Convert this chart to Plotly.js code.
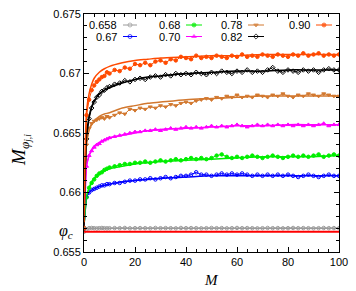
<!DOCTYPE html>
<html><head><meta charset="utf-8">
<script src="https://cdn.plot.ly/plotly-3.0.1.min.js"></script>
<style>html,body{margin:0;padding:0;background:#fff}#c{width:356px;height:291px}</style>
</head><body><div id="c"></div>
<script>
const M = [0,1,2,3,4,5,6,7,8,9,10,12,14,16,18,20,22,24,26,28,30,32,34,36,38,40,42,44,46,48,50,52,54,56,58,60,62,64,66,68,70,72,74,76,78,80,82,84,86,88,90,92,94,96,98,100];
const Mfit = [0,1,2,3,4,6,8,10,15,20,25,30,40,50,60,70,80,90,100];
const phiC = 0.6567;

const d0658 = [0.6567,0.6569,0.6570,0.65702,0.6570,0.65698,0.6570,0.65702,0.6570,0.65699,0.6570,0.65701,0.6570,0.65702,0.65699,0.6570,0.65701,0.6570,0.65699,0.65702,0.6570,0.65701,0.6570,0.65699,0.65702,0.6570,0.65701,0.6570,0.65699,0.6570,0.65702,0.6570,0.65701,0.65699,0.6570,0.65702,0.6570,0.65701,0.6570,0.65699,0.6570,0.65702,0.6570,0.65701,0.65699,0.6570,0.65702,0.6570,0.65701,0.6570,0.65699,0.6570,0.65702,0.6570,0.65701,0.6570];
const d067 = [0.6570,0.6596,0.6600,0.6602,0.6603,0.6604,0.6605,0.6606,0.6606,0.6607,0.6607,0.6608,0.6608,0.6609,0.6610,0.6610,0.6611,0.6611,0.6612,0.6611,0.6612,0.6613,0.6612,0.6613,0.6614,0.6614,0.6615,0.6617,0.6615,0.6615,0.6614,0.6615,0.6616,0.6615,0.6616,0.6615,0.6616,0.6615,0.6614,0.6615,0.6614,0.6615,0.6614,0.6615,0.6614,0.6615,0.6614,0.6613,0.6614,0.6615,0.6614,0.6613,0.6614,0.6615,0.6614,0.6614];
const d068 = [0.6570,0.6596,0.6604,0.6608,0.6611,0.6614,0.6616,0.6617,0.6619,0.6620,0.6621,0.6622,0.6623,0.6624,0.6624,0.6625,0.6625,0.6626,0.6625,0.6626,0.6627,0.6626,0.6627,0.6628,0.6627,0.6628,0.6629,0.6628,0.6629,0.6628,0.6629,0.6631,0.6632,0.6630,0.6629,0.6630,0.6629,0.6630,0.6631,0.6630,0.6629,0.6630,0.6631,0.6630,0.6629,0.6630,0.6631,0.6630,0.6631,0.6630,0.6631,0.6632,0.6630,0.6631,0.6632,0.6631];
const d070 = [0.6570,0.6622,0.6631,0.6635,0.6638,0.6640,0.6641,0.6643,0.6644,0.6645,0.6646,0.6647,0.6648,0.6649,0.6650,0.6651,0.6651,0.6652,0.6652,0.6653,0.6652,0.6653,0.6654,0.6653,0.6654,0.6655,0.6654,0.6655,0.6654,0.6655,0.6656,0.6655,0.6656,0.6655,0.6656,0.6657,0.6656,0.6655,0.6656,0.6657,0.6656,0.6657,0.6656,0.6657,0.6656,0.6657,0.6656,0.6657,0.6656,0.6657,0.6656,0.6657,0.6658,0.6656,0.6657,0.6657];
const d078 = [0.6570,0.6640,0.6654,0.6658,0.6660,0.6661,0.6662,0.6663,0.6662,0.6664,0.6663,0.6665,0.6667,0.6666,0.6670,0.6669,0.6671,0.6670,0.6672,0.6671,0.6673,0.6672,0.6674,0.6673,0.6675,0.6676,0.6675,0.6677,0.6678,0.6679,0.6678,0.6680,0.6679,0.6681,0.6680,0.6682,0.6680,0.6681,0.6680,0.6682,0.6681,0.6680,0.6682,0.6681,0.6683,0.6681,0.6680,0.6682,0.6681,0.6683,0.6682,0.6681,0.6683,0.6682,0.6681,0.6681];
const d082 = [0.6570,0.6645,0.6662,0.6671,0.6676,0.6680,0.6682,0.6685,0.6686,0.6688,0.6689,0.6691,0.6692,0.6694,0.6693,0.6695,0.6696,0.6695,0.6697,0.6698,0.6697,0.6699,0.6698,0.6700,0.6699,0.6700,0.6699,0.6701,0.6700,0.6699,0.6701,0.6700,0.6702,0.6701,0.6700,0.6702,0.6701,0.6703,0.6701,0.6702,0.6701,0.6703,0.6705,0.6702,0.6701,0.6703,0.6702,0.6701,0.6703,0.6702,0.6703,0.6701,0.6703,0.6704,0.6703,0.6703];
const d090 = [0.6570,0.6665,0.6678,0.6686,0.6690,0.6693,0.6695,0.6697,0.6698,0.6701,0.6700,0.6703,0.6702,0.6705,0.6704,0.6708,0.6707,0.6709,0.6707,0.6710,0.6711,0.6709,0.6712,0.6711,0.6714,0.6713,0.6712,0.6715,0.6713,0.6714,0.6713,0.6715,0.6714,0.6713,0.6715,0.6714,0.6716,0.6714,0.6715,0.6714,0.6716,0.6715,0.6714,0.6716,0.6715,0.6714,0.6716,0.6715,0.6717,0.6715,0.6716,0.6717,0.6715,0.6716,0.6715,0.6716];

const f0658 = [0.6570,0.6570,0.6570,0.6570,0.6570,0.6570,0.6570,0.6570,0.6570,0.6570,0.6570,0.6570,0.6570,0.6570,0.6570,0.6570,0.6570,0.6570,0.6570];
const f067 = [0.6572,0.6596,0.6600,0.6602,0.6603,0.6605,0.6606,0.6607,0.6609,0.6610,0.6611,0.6612,0.6613,0.6614,0.6614,0.6614,0.6614,0.6614,0.6614];
const f068 = [0.6572,0.6597,0.6604,0.6609,0.6612,0.6616,0.6618,0.6620,0.6622,0.6624,0.6625,0.6626,0.6627,0.6628,0.6629,0.6630,0.6630,0.6630,0.6631];
const f070 = [0.6572,0.6623,0.6631,0.6636,0.6639,0.6642,0.6644,0.6646,0.6648,0.6650,0.6652,0.6653,0.6654,0.6655,0.6656,0.6656,0.6657,0.6657,0.6657];
const f078 = [0.6572,0.6642,0.6652,0.6657,0.6660,0.6664,0.6666,0.6667,0.6671,0.6673,0.6675,0.6676,0.6678,0.6679,0.6680,0.6681,0.6681,0.6681,0.6681];
const f082 = [0.6572,0.6648,0.6664,0.6672,0.6677,0.6683,0.6686,0.6688,0.6692,0.6695,0.6697,0.6698,0.6700,0.6701,0.6702,0.6702,0.6703,0.6703,0.6703];
const f090 = [0.6575,0.6668,0.6683,0.6691,0.6696,0.6701,0.6704,0.6706,0.6709,0.6711,0.6712,0.6713,0.6714,0.6715,0.6715,0.6716,0.6716,0.6716,0.6716];

const labels = ['0.658','0.67','0.68','0.70','0.78','0.82','0.90'];
const colors = ['#9a9a9a','#0000ff','#00ee00','#ff00ff','#d2782f','#000000','#ff4a00'];
const symbols = ['circle-open','circle-open','circle','triangle-up','triangle-down','diamond-open','circle'];
const dataSets = [d0658,d067,d068,d070,d078,d082,d090];
const fitSets = [f0658,f067,f068,f070,f078,f082,f090];

const yTicks = [0.655, phiC, 0.66, 0.665, 0.67, 0.675];
const yTickText = ['0.655', '', '0.66', '0.665', '0.67', '0.675'];

const traces = [];
dataSets.forEach((d,i)=>{
  traces.push({x:M, y:d, type:'scatter', mode:'lines+markers', showlegend:false,
    line:{color:colors[i], width:1}, marker:{color:colors[i], symbol:symbols[i], size:3.5, line:{color:colors[i], width:1}}});
});
fitSets.forEach((f,i)=>{
  traces.push({x:Mfit, y:f, type:'scatter', mode:'lines', showlegend:false, line:{color:colors[i], width:1.5, shape:'spline', smoothing:0.8}});
});

const legCols = [[125,135],[188,200],[250,262],[318,330]];
const legRows = [25,36.5];
const order = [[0,0],[1,0],[2,1],[3,1],[4,2],[5,2],[6,3]];
const annotations = [];
labels.forEach((lab,i)=>{
  const col = order[i][1], row = i===6?0:(i%2);
  const xs = legCols[col], yy = legRows[row];
  traces.push({x:[xs[0]-2,(xs[0]+xs[1])/2,xs[1]+2], y:[yy,yy,yy], xaxis:'x2', yaxis:'y2', type:'scatter', mode:'lines+markers', showlegend:false,
    line:{color:colors[i], width:1}, marker:{color:colors[i], symbol:symbols[i], size:[0,4,0], line:{color:colors[i], width:1}}});
  annotations.push({xref:'x2', yref:'y2', x:xs[0]-6, y:yy, text:lab, showarrow:false, xanchor:'right', yanchor:'middle',
    font:{family:'Liberation Sans, Arial, sans-serif', size:11, color:'#000'}});
});
annotations.push({xref:'paper', yref:'y', x:-0.035, y:phiC, text:'<i>φ</i><sub><i>c</i></sub>', showarrow:false, xanchor:'right', yanchor:'middle',
  font:{family:'Liberation Serif, DejaVu Serif, serif', size:16, color:'#000'}});
annotations.push({xref:'paper', yref:'paper', x:-0.25, y:0.43, text:'<i>M</i><sub><i>φ</i><sub><i>j,i</i></sub></sub>', textangle:-90, showarrow:false,
  xanchor:'center', yanchor:'middle', font:{family:'Liberation Serif, DejaVu Serif, serif', size:19, color:'#000'}});
annotations.push({xref:'paper', yref:'paper', x:0.5, y:-0.118, text:'<i>M</i>', showarrow:false, xanchor:'center', yanchor:'middle',
  font:{family:'Liberation Serif, DejaVu Serif, serif', size:15, color:'#000'}});

const layout = {
  width:356, height:291, margin:{l:84, r:17, t:14, b:39}, paper_bgcolor:'#fff', plot_bgcolor:'#fff',
  font:{family:'Liberation Sans, Arial, sans-serif', size:11, color:'#000'},
  xaxis:{range:[0,100], dtick:20, tick0:0, showgrid:false, zeroline:false, showline:true, linecolor:'#000', linewidth:1,
    mirror:'allticks', ticks:'inside', ticklen:5, tickcolor:'#000', tickfont:{size:11},
    minor:{dtick:4, tick0:0, ticks:'inside', ticklen:3, tickcolor:'#000', showgrid:false}},
  yaxis:{range:[0.655,0.675], tickmode:'array', tickvals:yTicks, ticktext:yTickText, showgrid:false, zeroline:false, showline:true,
    linecolor:'#000', linewidth:1, mirror:'allticks', ticks:'inside', ticklen:5, tickcolor:'#000', tickfont:{size:11},
    minor:{tickmode:'linear', dtick:0.001, tick0:0.655, ticks:'inside', ticklen:3, tickcolor:'#000', showgrid:false}},
  xaxis2:{overlaying:'x', range:[84,339], visible:false, fixedrange:true},
  yaxis2:{overlaying:'y', range:[252,14], visible:false, fixedrange:true},
  shapes:[{type:'line', xref:'paper', yref:'y', x0:0, x1:1, y0:phiC, y1:phiC, line:{color:'#ff0000', width:2}}],
  annotations:annotations
};
Plotly.newPlot('c', traces, layout, {staticPlot:true, displayModeBar:false});
</script></body></html>
